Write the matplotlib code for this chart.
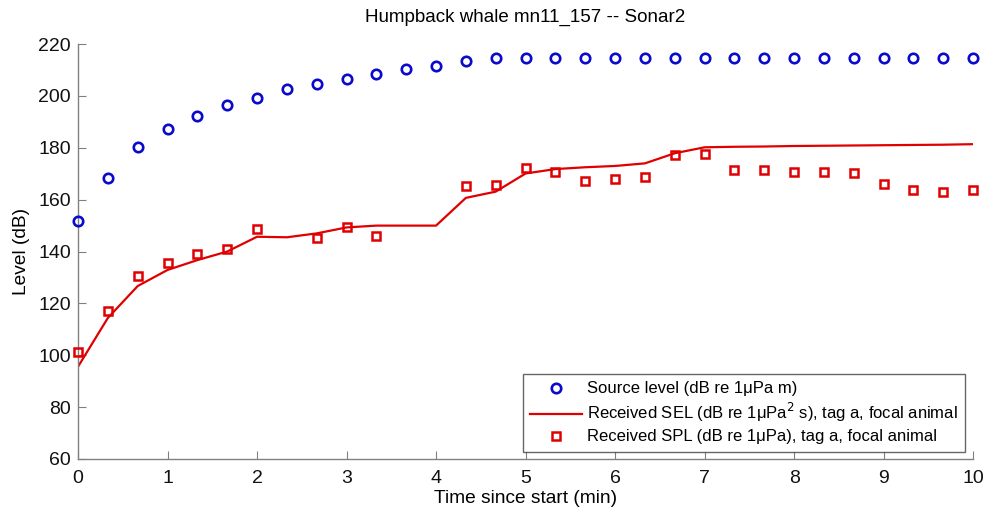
import matplotlib.pyplot as plt

plt.rcParams['font.family'] = ['Liberation Sans', 'DejaVu Sans']

# time axis: every 20 s over 10 minutes
time_min = [i / 3 for i in range(31)]

source_level = [
    151.9, 168.2, 180.4, 187.2, 192.4, 196.5, 199.4, 202.5, 204.6, 206.5,
    208.4, 210.5, 211.5, 213.6, 214.5, 214.5, 214.5, 214.5, 214.5, 214.5,
    214.5, 214.5, 214.5, 214.5, 214.5, 214.5, 214.5, 214.5, 214.5, 214.5,
    214.5,
]

received_sel = [
    95.6, 114.4, 126.7, 132.9, 136.7, 140.0, 145.7, 145.5, 147.0, 149.3,
    150.0, 150.0, 150.0, 160.7, 163.1, 170.1, 171.8, 172.5, 173.0, 174.0,
    177.9, 180.2, 180.4, 180.5, 180.7, 180.8, 180.9, 181.0, 181.1, 181.2,
    181.4,
]

# None where no SPL value was recorded
received_spl = [
    101.3, 117.1, 130.6, 135.5, 139.0, 141.1, 148.7, None, 145.1, 149.6,
    146.1, None, None, 165.3, 165.6, 172.1, 170.5, 167.3, 167.9, 168.7,
    177.2, 177.5, 171.4, 171.3, 170.7, 170.8, 170.3, 166.1, 163.7, 162.9,
    163.8,
]

spl_t = [t for t, v in zip(time_min, received_spl) if v is not None]
spl_v = [v for v in received_spl if v is not None]

blue = '#0a0acc'
red = '#e00000'

fig = plt.figure(figsize=(9.89, 5.18), dpi=100)
ax = fig.add_axes([0.0789, 0.1139, 0.905, 0.801])

ax.plot(time_min, source_level, 'o', ms=6.8, mfc='none', mec=blue, mew=1.9,
        label='Source level (dB re 1\u03bcPa m)', clip_on=False, zorder=3)
ax.plot(time_min, received_sel, '-', color=red, lw=1.6,
        label='Received SEL (dB re 1\u03bcPa$^2$ s), tag a, focal animal')
ax.plot(spl_t, spl_v, 's', ms=5.8, mfc='none', mec=red, mew=1.8,
        label='Received SPL (dB re 1\u03bcPa), tag a, focal animal',
        clip_on=False, zorder=3)

ax.set_xlim(0, 10)
ax.set_ylim(60, 220)
ax.set_xticks(range(0, 11))
ax.set_yticks(range(60, 221, 20))

for side in ['top', 'right']:
    ax.spines[side].set_visible(False)
for side in ['left', 'bottom']:
    ax.spines[side].set_color('#808080')
    ax.spines[side].set_linewidth(1)

ax.tick_params(direction='in', length=6, color='#808080', labelsize=14,
               labelcolor='#111111')
ax.tick_params(axis='x', pad=8)
ax.tick_params(axis='y', pad=5)

ax.set_xlabel('Time since start (min)', fontsize=13.8, labelpad=2)
ax.set_ylabel('Level (dB)', fontsize=13.8, labelpad=6)
ax.set_title('Humpback whale mn11_157 -- Sonar2', fontsize=13.5, pad=16)

leg = ax.legend(loc='lower right', bbox_to_anchor=(0.991, 0.017),
                fontsize=12, frameon=True, fancybox=False,
                edgecolor='#404040', handlelength=3.1, handletextpad=0.3,
                borderpad=0.45, labelspacing=0.3, borderaxespad=0)
leg.get_frame().set_linewidth(1)

fig.savefig('out.png', dpi=100)
